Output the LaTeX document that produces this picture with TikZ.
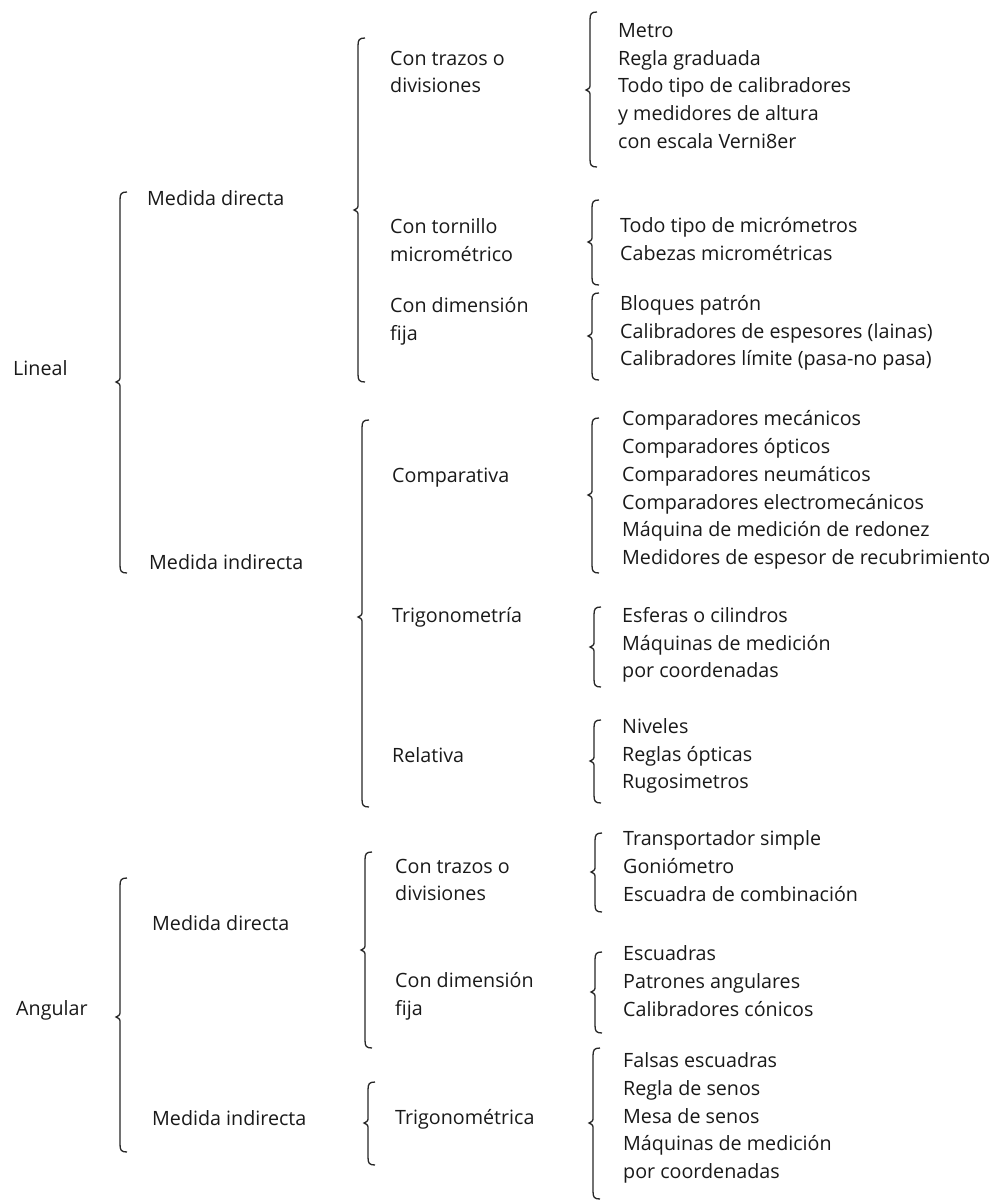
\documentclass[tikz,border=0pt]{standalone}
\usepackage{fontspec}
\setmainfont{Open Sans}
\newcommand\cbr[4]{% x, top, bottom, tip (y grows downward)
  \draw[bracestyle] ({#1+7},{#2}) .. controls ({#1+1},{#2}) and ({#1},{#2+2}) .. ({#1},{#2+8})
    -- ({#1},{#4-6}) .. controls ({#1},{#4-2}) .. ({#1-4},{#4})
    .. controls ({#1},{#4+2}) .. ({#1},{#4+6})
    -- ({#1},{#3-8}) .. controls ({#1},{#3-2}) and ({#1+1},{#3}) .. ({#1+7},{#3});}
\begin{document}
\begin{tikzpicture}[x=1pt,y=-1pt,
  bracestyle/.style={line width=1.3pt,black!85},
  lbl/.style={anchor=west,inner sep=0pt,align=left,font=\fontsize{19.7}{27.7}\selectfont,text=black!90}]
\useasboundingbox (0,0) rectangle (995,1200);
% ---------- Lineal ----------
\node[lbl] (lin) at (13,368) {Lineal};
\cbr{120}{192}{573}{382}
\node[lbl] (lmd) at (147,198) {Medida directa};
\node[lbl] (lmi) at (149,562) {Medida indirecta};
\cbr{358}{38}{382}{210}
\node[lbl] (ltr) at (390,72) {Con trazos o\\divisiones};
\node[lbl] (lto) at (390,240) {Con tornillo\\micrométrico};
\node[lbl] (ldf) at (390,321) {Con dimensión\\fija};
\cbr{362}{420}{807}{617}
\node[lbl] (lco) at (392,478) {Comparativa};
\node[lbl] (ltg) at (392,617) {Trigonometría};
\node[lbl] (lre) at (392,755) {Relativa};
\cbr{590}{12}{167}{90}
\node[lbl] (i1) at (618,86) {Metro\\Regla graduada\\Todo tipo de calibradores\\y medidores de altura\\con escala Verni8er};
\cbr{592}{200}{285}{242}
\node[lbl] (i2) at (620,239) {Todo tipo de micrómetros\\Cabezas micrométricas};
\cbr{592}{293}{380}{336}
\node[lbl] (i3) at (620,333) {Bloques patrón\\Calibradores de espesores (lainas)\\Calibradores límite (pasa-no pasa)};
\cbr{592}{418}{573}{495}
\node[lbl] (i4) at (622,490) {Comparadores mecánicos\\Comparadores ópticos\\Comparadores neumáticos\\Comparadores electromecánicos\\Máquina de medición de redonez\\Medidores de espesor de recubrimiento};
\cbr{594}{607}{687}{647}
\node[lbl] (i5) at (622,645) {Esferas o cilindros\\Máquinas de medición\\por coordenadas};
\cbr{594}{720}{803}{761}
\node[lbl] (i6) at (622,756) {Niveles\\Reglas ópticas\\Rugosimetros};
% ---------- Angular ----------
\node[lbl] (ang) at (16,1010) {Angular};
\cbr{120}{878}{1152}{1017}
\node[lbl] (amd) at (152,923) {Medida directa};
\node[lbl] (ami) at (152,1118) {Medida indirecta};
\cbr{365}{852}{1048}{950}
\node[lbl] (atr) at (395,880) {Con trazos o\\divisiones};
\node[lbl] (adf) at (395,996) {Con dimensión\\fija};
\cbr{368}{1082}{1165}{1123}
\node[lbl] (atg) at (395,1119) {Trigonométrica};
\cbr{595}{833}{912}{872}
\node[lbl] (j1) at (623,866) {Transportador simple\\Goniómetro\\Escuadra de combinación};
\cbr{595}{952}{1033}{992}
\node[lbl] (j2) at (623,981) {Escuadras\\Patrones angulares\\Calibradores cónicos};
\cbr{593}{1048}{1199}{1123}
\node[lbl] (j3) at (623,1118) {Falsas escuadras\\Regla de senos\\Mesa de senos\\Máquinas de medición\\por coordenadas};
\end{tikzpicture}
\end{document}
